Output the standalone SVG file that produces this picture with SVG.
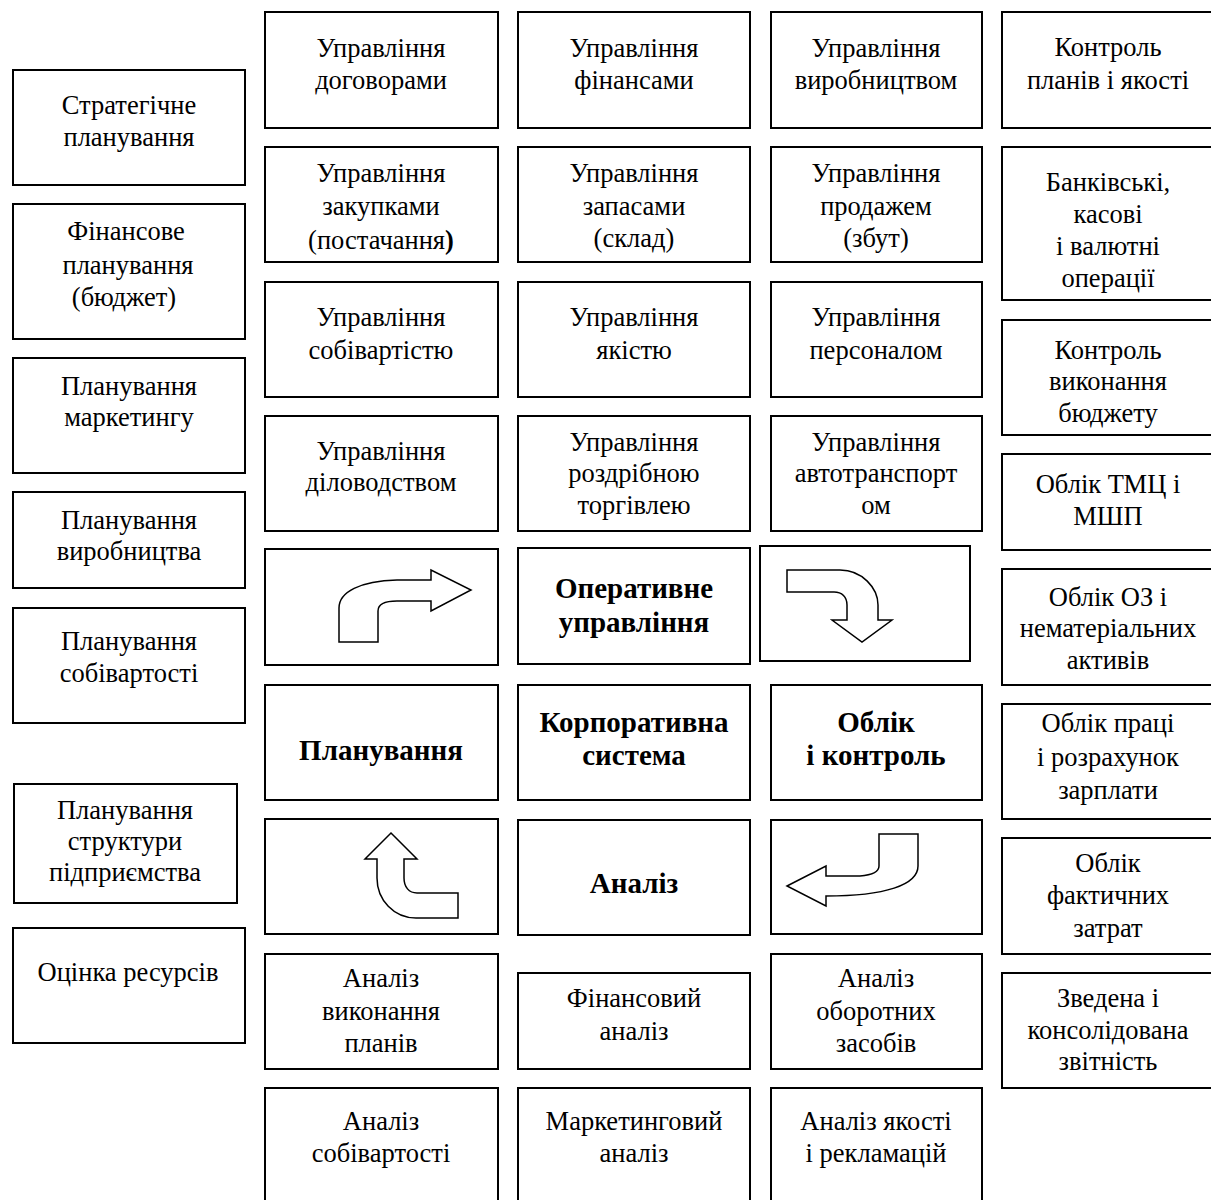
<svg xmlns="http://www.w3.org/2000/svg" width="1211" height="1200" viewBox="0 0 1211 1200">
<style>
rect{fill:#fff;stroke:#000;stroke-width:2}
text{font-family:"Liberation Serif","Times New Roman","DejaVu Serif",serif;font-size:26.5px;fill:#000;text-anchor:middle}
.b{font-weight:bold;font-size:29px}
tspan.b{font-size:26.5px}
.arr{fill:#fff;stroke:#000;stroke-width:1.5;stroke-linejoin:miter}
</style>
<rect x="0" y="0" width="1211" height="1200" style="stroke:none"/>
<!-- column 1 -->
<g id="n-strat"><rect x="13" y="70" width="232" height="115"/><text x="129" y="114">Стратегічне</text><text x="129" y="146">планування</text></g>
<g id="n-fin-plan"><rect x="13" y="204" width="232" height="135"/><text x="126" y="240">Фінансове</text><text x="128" y="274">планування</text><text x="124" y="306">(бюджет)</text></g>
<g id="n-mark-plan"><rect x="13" y="358" width="232" height="115"/><text x="129" y="395">Планування</text><text x="129" y="426">маркетингу</text></g>
<g id="n-prod-plan"><rect x="13" y="492" width="232" height="96"/><text x="129" y="529">Планування</text><text x="129" y="560">виробництва</text></g>
<g id="n-cost-plan"><rect x="13" y="608" width="232" height="115"/><text x="129" y="650">Планування</text><text x="129" y="682">собівартості</text></g>
<g id="n-struct-plan"><rect x="14" y="784" width="223" height="119"/><text x="125" y="819">Планування</text><text x="125" y="850">структури</text><text x="125" y="881">підприємства</text></g>
<g id="n-res"><rect x="13" y="928" width="232" height="115"/><text x="128" y="981">Оцінка ресурсів</text></g>
<!-- column 2 -->
<g id="n-contracts"><rect x="265" y="12" width="233" height="116"/><text x="381" y="57">Управління</text><text x="381" y="89">договорами</text></g>
<g id="n-purch"><rect x="265" y="147" width="233" height="115"/><text x="381" y="182">Управління</text><text x="381" y="215">закупками</text><text x="381" y="249">(постачання<tspan class="b">)</tspan></text></g>
<g id="n-costm"><rect x="265" y="282" width="233" height="115"/><text x="381" y="326">Управління</text><text x="381" y="359">собівартістю</text></g>
<g id="n-docs"><rect x="265" y="416" width="233" height="115"/><text x="381" y="460">Управління</text><text x="381" y="491">діловодством</text></g>
<g id="n-arrow1"><rect x="265" y="549" width="233" height="116"/><path class="arr" d="M339,642 L378,642 L378,611 C378,604 384,601 397,601 L431,601 L431,611 L471,590 L431,570 L431,580 L397,580 C360,581 339,592 339,608 Z"/></g>
<g id="n-planning"><rect x="265" y="685" width="233" height="115"/><text class="b" x="381" y="760">Планування</text></g>
<g id="n-arrow4"><rect x="265" y="819" width="233" height="115"/><path class="arr" d="M391,833 L417,859 L404,859 L404,878 C404,887 409,893 417,893 L458,893 L458,918 L416,918 C394,918 377,900 377,878 L377,859 L365,859 Z"/></g>
<g id="n-an-plan"><rect x="265" y="954" width="233" height="115"/><text x="381" y="987">Аналіз</text><text x="381" y="1020">виконання</text><text x="381" y="1052">планів</text></g>
<g id="n-an-cost"><rect x="265" y="1088" width="233" height="125"/><text x="381" y="1130">Аналіз</text><text x="381" y="1162">собівартості</text></g>
<!-- column 3 -->
<g id="n-finance"><rect x="518" y="12" width="232" height="116"/><text x="634" y="57">Управління</text><text x="634" y="89">фінансами</text></g>
<g id="n-stock"><rect x="518" y="147" width="232" height="115"/><text x="634" y="182">Управління</text><text x="634" y="215">запасами</text><text x="634" y="247">(склад)</text></g>
<g id="n-quality"><rect x="518" y="282" width="232" height="115"/><text x="634" y="326">Управління</text><text x="634" y="359">якістю</text></g>
<g id="n-retail"><rect x="518" y="416" width="232" height="115"/><text x="634" y="451">Управління</text><text x="634" y="482">роздрібною</text><text x="634" y="514">торгівлею</text></g>
<g id="n-oper"><rect x="518" y="548" width="232" height="116"/><text class="b" x="634" y="598">Оперативне</text><text class="b" x="634" y="632">управління</text></g>
<g id="n-corp"><rect x="518" y="685" width="232" height="115"/><text class="b" x="634" y="732">Корпоративна</text><text class="b" x="634" y="765">система</text></g>
<g id="n-analysis"><rect x="518" y="820" width="232" height="115"/><text class="b" x="634" y="893">Аналіз</text></g>
<g id="n-fin-an"><rect x="518" y="973" width="232" height="96"/><text x="634" y="1007">Фінансовий</text><text x="634" y="1040">аналіз</text></g>
<g id="n-mark-an"><rect x="518" y="1088" width="232" height="125"/><text x="634" y="1130">Маркетинговий</text><text x="634" y="1162">аналіз</text></g>
<!-- column 4 -->
<g id="n-production"><rect x="771" y="12" width="211" height="116"/><text x="876" y="57">Управління</text><text x="876" y="89">виробництвом</text></g>
<g id="n-sales"><rect x="771" y="147" width="211" height="115"/><text x="876" y="182">Управління</text><text x="876" y="215">продажем</text><text x="876" y="247">(збут)</text></g>
<g id="n-staff"><rect x="771" y="282" width="211" height="115"/><text x="876" y="326">Управління</text><text x="876" y="359">персоналом</text></g>
<g id="n-transport"><rect x="771" y="416" width="211" height="115"/><text x="876" y="451">Управління</text><text x="876" y="482">автотранспорт</text><text x="876" y="514">ом</text></g>
<g id="n-arrow2"><rect x="760" y="546" width="210" height="115"/><path class="arr" d="M787,570 L840,570 C862,570 878,588 878,605 L878,620 L892,620 L862,642 L832,620 L847,620 L847,605 C847,597 842,592 834,592 L787,592 Z"/></g>
<g id="n-acc"><rect x="771" y="685" width="211" height="115"/><text class="b" x="876" y="732">Облік</text><text class="b" x="876" y="765">і контроль</text></g>
<g id="n-arrow3"><rect x="771" y="820" width="211" height="114"/><path class="arr" d="M787,886 L826,866 L826,876 L860,876 C872,875 879,872 879,866 L879,834 L918,834 L918,866 C918,885 885,896 826,896 L826,906 Z"/></g>
<g id="n-an-work"><rect x="771" y="954" width="211" height="115"/><text x="876" y="987">Аналіз</text><text x="876" y="1020">оборотних</text><text x="876" y="1052">засобів</text></g>
<g id="n-an-qual"><rect x="771" y="1088" width="211" height="125"/><text x="876" y="1130">Аналіз якості</text><text x="876" y="1162">і рекламацій</text></g>
<!-- column 5 -->
<g id="n-ctrl-plan"><rect x="1002" y="12" width="220" height="116"/><text x="1108" y="56">Контроль</text><text x="1108" y="89">планів і якості</text></g>
<g id="n-bank"><rect x="1002" y="147" width="220" height="153"/><text x="1108" y="191">Банківські,</text><text x="1108" y="223">касові</text><text x="1108" y="255">і валютні</text><text x="1108" y="287">операції</text></g>
<g id="n-ctrl-budget"><rect x="1002" y="320" width="220" height="115"/><text x="1108" y="359">Контроль</text><text x="1108" y="390">виконання</text><text x="1108" y="422">бюджету</text></g>
<g id="n-tmc"><rect x="1002" y="454" width="220" height="96"/><text x="1108" y="493">Облік ТМЦ і</text><text x="1108" y="525">МШП</text></g>
<g id="n-oz"><rect x="1002" y="569" width="220" height="116"/><text x="1108" y="606">Облік ОЗ і</text><text x="1108" y="637">нематеріальних</text><text x="1108" y="669">активів</text></g>
<g id="n-labor"><rect x="1002" y="704" width="220" height="115"/><text x="1108" y="732">Облік праці</text><text x="1108" y="766">і розрахунок</text><text x="1108" y="799">зарплати</text></g>
<g id="n-actual"><rect x="1002" y="838" width="220" height="116"/><text x="1108" y="872">Облік</text><text x="1108" y="904">фактичних</text><text x="1108" y="937">затрат</text></g>
<g id="n-report"><rect x="1002" y="973" width="220" height="115"/><text x="1108" y="1007">Зведена і</text><text x="1108" y="1039">консолідована</text><text x="1108" y="1070">звітність</text></g>
<g id="connectors"></g>
</svg>
